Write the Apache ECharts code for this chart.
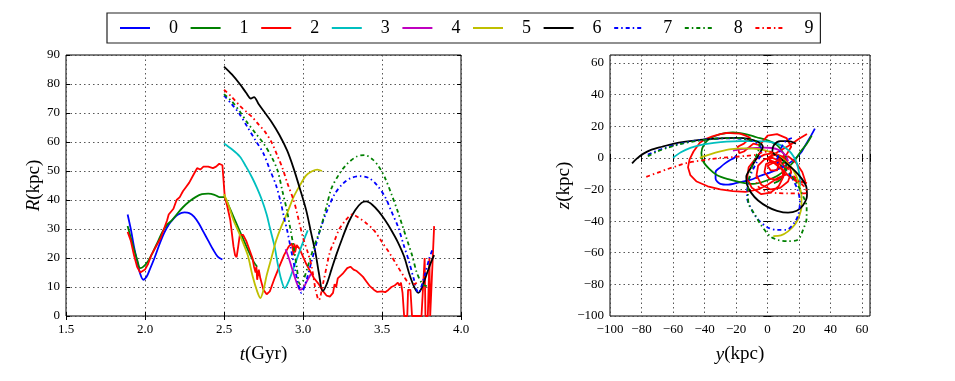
<!DOCTYPE html>
<html><head><meta charset="utf-8">
<script src="https://cdn.jsdelivr.net/npm/echarts@6/dist/echarts.min.js"></script>
<style>html,body{margin:0;padding:0;background:#fff}#c{width:955px;height:381px}</style>
</head><body><div id="c"></div>
<script>
const names = ['0','1','2','3','4','5','6','7','8','9'];
const colors = ['#0000ff','#008000','#ff0000','#00bfbf','#bf00bf','#bfbf00','#000000','#0000ff','#008000','#ff0000'];
const tTicks = [1.5, 2.0, 2.5, 3.0, 3.5, 4.0];
const rTicks = [0, 10, 20, 30, 40, 50, 60, 70, 80, 90];
const yzTicks = [-100, -80, -60, -40, -20, 0, 20, 40, 60];

// R(t) series
const R0 = [[1.89,35],[1.91,30],[1.93,24],[1.95,19],[1.97,14.5],[1.99,12.5],[2.01,13.5],[2.03,16],[2.06,20],[2.09,24.5],[2.12,28.5],[2.15,31.5],[2.18,33.5],[2.21,35],[2.25,35.7],[2.28,35.5],[2.31,34.3],[2.34,32],[2.37,29],[2.40,26],[2.43,23],[2.46,20.5],[2.49,19.5]];
const R1 = [[1.89,31],[1.91,27],[1.93,23],[1.95,19.5],[1.97,16.5],[1.99,17],[2.02,19],[2.05,22],[2.08,25.5],[2.11,29],[2.14,31.5],[2.17,33],[2.2,35],[2.24,37.5],[2.28,39.5],[2.32,41],[2.36,42],[2.4,42.2],[2.44,41.8],[2.47,41],[2.5,41],[2.53,38],[2.57,33],[2.61,28],[2.65,23],[2.69,18.5],[2.71,17]];
const R2 = [[1.89,29],[1.91,26],[1.93,21],[1.95,17],[1.97,15],[1.98,14.5],[2.0,16],[2.02,18],[2.04,21],[2.06,23],[2.08,25],[2.1,27],[2.12,30],[2.14,33],[2.15,35],[2.16,34.5],[2.18,37],[2.2,40],[2.22,41],[2.24,43],[2.26,44.5],[2.28,46],[2.3,48],[2.32,50],[2.33,51],[2.35,50.5],[2.37,51.5],[2.4,51.5],[2.43,51],[2.45,51.5],[2.47,52.5],[2.48,52.5],[2.49,52],[2.5,52],[2.505,41],[2.52,38],[2.54,33],[2.56,24],[2.57,21],[2.58,20.3],[2.59,24],[2.6,28],[2.62,28],[2.64,26],[2.66,23],[2.68,20],[2.69,17],[2.7,15],[2.705,17],[2.71,12.5],[2.72,16],[2.73,13],[2.75,9],[2.77,7.5],[2.79,8.5],[2.82,13],[2.85,17],[2.88,21],[2.91,24],[2.93,25],[2.94,21],[2.945,25],[2.95,22],[2.96,24.5],[2.98,23],[3.0,20.5],[3.02,18],[3.04,16],[3.07,13],[3.1,11],[3.12,9],[3.15,7],[3.17,6.7],[3.19,8],[3.2,11],[3.21,10],[3.22,13],[3.25,14.5],[3.28,16.5],[3.3,17],[3.32,16],[3.34,15.5],[3.36,14.5],[3.38,13.5],[3.4,12],[3.42,10.5],[3.45,9],[3.47,8.3],[3.5,8.5],[3.52,8.2],[3.54,9],[3.56,10],[3.58,10.5],[3.6,11.5],[3.61,10.5],[3.62,11.5],[3.63,8],[3.64,0],[3.66,0],[3.665,9],[3.68,9],[3.69,0],[3.75,0],[3.77,20],[3.775,0],[3.79,0],[3.8,20],[3.805,0],[3.815,0],[3.83,31]];
const R3 = [[2.5,59.5],[2.55,57.5],[2.6,55],[2.64,51.5],[2.68,47.5],[2.71,44],[2.74,40],[2.77,35],[2.79,30.5],[2.82,24],[2.84,18],[2.86,13],[2.885,9.6],[2.91,12],[2.95,18],[2.99,24],[3.03,29.5]];
const R4 = [[2.89,23],[2.91,20],[2.93,16.5],[2.95,13],[2.97,10],[2.98,9],[3.0,9.5],[3.02,11.5],[3.05,14.5]];
const R5 = [[2.5,42],[2.53,38],[2.56,33],[2.6,28],[2.65,21],[2.68,14],[2.71,8.5],[2.73,6.2],[2.75,9],[2.77,14],[2.8,20],[2.83,26],[2.86,30.5],[2.9,35.5],[2.94,41],[2.98,45],[3.02,48.5],[3.06,50],[3.09,50.5],[3.12,50]];
const R6 = [[2.5,86],[2.55,83.3],[2.6,80],[2.64,77],[2.67,75],[2.69,75.5],[2.72,73],[2.76,70],[2.8,67],[2.85,62.5],[2.9,57],[2.94,51],[2.98,44],[3.02,36.5],[3.05,29],[3.08,21.5],[3.1,15],[3.125,8.6],[3.15,11],[3.18,16],[3.21,21],[3.25,27],[3.29,32.5],[3.33,36.5],[3.37,39],[3.4,39.5],[3.44,38.3],[3.48,36],[3.52,33],[3.56,29.5],[3.6,25.5],[3.64,20.5],[3.67,15],[3.7,10.5],[3.73,8],[3.75,9.5],[3.78,14],[3.81,18.5],[3.83,21]];
const R7 = [[2.5,76],[2.55,73],[2.6,69.5],[2.65,65],[2.7,60.5],[2.75,56],[2.79,50.5],[2.83,45],[2.86,39],[2.88,34],[2.9,29.5],[2.92,24],[2.95,16],[2.97,11],[2.99,8],[3.02,12],[3.05,18],[3.08,24],[3.11,30],[3.15,36],[3.2,42],[3.25,45.5],[3.3,47.5],[3.36,48.2],[3.42,47.5],[3.47,45],[3.52,41],[3.56,36],[3.6,31],[3.64,24],[3.67,19],[3.7,13],[3.73,8],[3.77,14],[3.8,20],[3.82,23]];
const R8 = [[2.5,76.5],[2.55,74],[2.6,70.5],[2.65,66.5],[2.7,63],[2.75,59.5],[2.8,55],[2.84,50],[2.87,43],[2.9,36],[2.92,30],[2.94,24],[2.96,17],[2.98,11],[3.0,12],[3.03,17],[3.07,24],[3.11,30],[3.15,38],[3.18,44],[3.23,49],[3.28,52.5],[3.34,55],[3.39,55.5],[3.44,54],[3.48,51.5],[3.52,47.5],[3.56,42],[3.6,36],[3.63,31],[3.66,26],[3.69,21],[3.72,15],[3.75,11.5],[3.77,10.5],[3.8,10.3]];
const R9 = [[2.5,78],[2.55,75.5],[2.6,72.5],[2.65,70],[2.68,68.5],[2.72,66],[2.76,63.5],[2.8,60],[2.84,55],[2.87,51],[2.9,46],[2.94,40],[2.96,36],[3.0,27],[3.03,22],[3.055,17],[3.08,9],[3.1,5.5],[3.13,12],[3.17,22],[3.2,26],[3.23,30],[3.27,33],[3.31,35],[3.35,34],[3.4,32],[3.45,29.5],[3.5,25.5],[3.55,21.5],[3.6,17],[3.64,13.5],[3.67,11.3],[3.7,11],[3.72,11.5]];

// y-z trajectories
const YZ0 = [[30,18.5],[27,13],[24,8],[21,3],[17,-1],[12,-4.5],[7,-7],[1,-9.5],[-5,-11.5],[-11,-14],[-18,-15.5],[-25,-17],[-30,-16.5],[-33,-13],[-33,-9],[-30,-6],[-27,-3.5],[-24,-1.5],[-21,0],[-20,1.5]];
const YZ1 = [[28,14],[25,9],[21,4],[17,-2],[12,-7],[6,-11.5],[-1,-14.5],[-9,-16.5],[-17,-15.5],[-25,-13.5],[-32,-11],[-37,-7],[-41,-2],[-42,3],[-40,9],[-36,12.5],[-30,15],[-22,16],[-14,15],[-7,13],[0,11],[6,8],[10,3],[12,-3],[11,-9],[8,-14],[4,-16]];
const YZ2 = [[25,-16],[18,-14],[12,-10.5],[6,-13],[0,-17],[-6,-20],[-14,-21.5],[-22,-21],[-30,-20],[-38,-18],[-45,-15],[-49,-11],[-50.5,-6],[-49.5,-1],[-47,4],[-43,9.5],[-39,12],[-35,13.6],[-30,15],[-26,15.8],[-21,15.5],[-17.5,15.3],[-14,14],[-11,12.6],[-15,9],[-19,7],[-18,3],[-15,4],[-9,9],[-5,8],[0,14],[6,15],[12,12.5],[15,7],[12,2],[6,-1],[9,-6],[10,-12],[7,-18],[2,-22],[-4,-23],[-10,-19],[-13,-13],[-12,-6],[-8,-1],[-2,2],[4,3],[9,1],[13,-3],[15,-9],[13,-15],[8,-19],[2,-20],[-4,-17],[-7,-11],[-6,-5],[-2,-1],[3,0],[8,-2],[11,-6],[10,-11],[6,-14],[1,-13],[-2,-9],[-1,-4],[3,-2],[7,-4],[6,-8],[2,-8],[0,-5],[4,-3],[8,-1],[13,1],[18,-3],[22,-9],[24,-15],[20,-16],[14,-12],[10,-8],[0,0],[3,-4],[0,0],[5,2],[0,0],[14,8],[20,12],[25,15]];
const YZ3 = [[-60,0],[-55,3.5],[-49,6.3],[-42,8.2],[-34,9.5],[-26,10.3],[-17,10.5],[-8,10.5],[0,10.3],[6,9],[11,6.5],[15,3],[18,-2],[19.5,-7],[20.5,-13],[20.5,-18]];
const YZ4 = [[-22,4.5],[-17,5.5],[-12,6],[-7,6.3],[-2,6.5],[3,6.2],[7,5],[10,3],[12,0.5],[13,-2]];
const YZ5 = [[-43,0],[-37,2],[-30,4],[-23,5.5],[-16,6],[-9,5.8],[-3,5],[2,3.5],[7,1],[11,-2],[15,-6],[18,-11],[20,-17],[21.5,-24],[21.5,-31],[20,-37],[17.5,-42],[13,-46.5],[8.5,-49],[3.6,-49.5]];
const YZ6 = [[-86,-3.5],[-83,-0.5],[-79,2.5],[-74,5],[-67,7],[-60,8.8],[-52,10.2],[-43,11.3],[-35,12],[-27,12.5],[-19,12.6],[-12,12],[-6,10],[-3,7],[-5,3],[-8,-2],[-11,-7],[-13.5,-12],[-13,-17],[-10.5,-22],[-6,-27],[0,-31],[6,-33.5],[13,-34.7],[18.5,-33.5],[22.5,-30],[25,-24],[24.5,-18],[21.5,-13],[17,-8],[12,-3.5],[7,0.5],[3,4],[4,8],[8,10.5],[13,10.5],[18,9]];
const YZ7 = [[-76,2],[-70,4.5],[-63,7],[-55,9],[-46,10.8],[-37,11.8],[-28,12.3],[-19,12.2],[-11,11],[-5,8],[-4,3],[-7,-3],[-10,-9],[-12.5,-16],[-13,-25],[-10,-33],[-6,-39],[0,-44],[6,-45.5],[12,-45.5],[17,-41],[19.5,-36],[20.5,-28],[19,-20],[15,-12],[10,-6],[6,-2],[8,5],[11,10],[14,12],[17,13]];
const YZ8 = [[-76,1],[-70,4],[-63,6.5],[-55,8.8],[-46,10.5],[-37,11.7],[-28,12.4],[-19,12.4],[-11,11.2],[-5,9],[-6,4],[-9,-3],[-11.5,-12],[-12.5,-22],[-12,-29],[-8,-36],[-4.5,-42],[1.5,-49.5],[7,-52],[13,-52.7],[19.4,-51.6],[22.6,-45.3],[24.8,-38],[24.8,-31],[22.6,-24.3],[19,-17],[15,-11],[11,-7],[8,-4],[10,-3],[12,2]];
const YZ9 = [[-77,-12],[-70,-9.5],[-64,-7.3],[-57,-5],[-51,-3.2],[-44,-2],[-37,-1],[-30,0],[-22,0.5],[-14,1.2],[-7,2],[-3,3.5],[1,4],[5,2],[9,-2],[13,-7],[17,-12],[21,-16],[24,-19],[25,-22],[20,-22.5],[13,-22.5],[6,-22.3],[0,-21.5],[-5,-19],[-7,-16],[-7,-12],[-6,-9]];

const RS = [R0,R1,R2,R3,R4,R5,R6,R7,R8,R9];
const YZS = [YZ0,YZ1,YZ2,YZ3,YZ4,YZ5,YZ6,YZ7,YZ8,YZ9];

const FONT = 'Liberation Serif';
const dashDot = [4,3,1.5,3];
function lineType(i){ return i >= 7 ? dashDot : 'solid'; }
function smoothOf(i){ return i === 2 ? false : 0.3; }

const minus = v => String(v).replace('-', '\u2212');
const labelStyle = {fontFamily: FONT, fontSize: 13, color: '#000'};
const splitStyle = {show: true, lineStyle: {color: '#444', type: [1.5,3], width: 0.9}};
const tickIn = {show: true, inside: true, length: 4, lineStyle: {color: '#000'}};
const nameStyle = {fontFamily: FONT, fontSize: 19, color: '#000',
  rich: {i: {fontFamily: FONT, fontSize: 19, fontStyle: 'italic', color: '#000'}}};

function mainX(gi, min, max, interval, fmt, name){
  return {type: 'value', gridIndex: gi, min, max, interval, position: 'bottom',
    axisLine: {show: false}, axisTick: tickIn, splitLine: splitStyle,
    axisLabel: Object.assign({margin: 7, formatter: fmt}, labelStyle),
    name, nameLocation: 'middle', nameGap: 29, nameTextStyle: nameStyle};
}
function mainY(gi, min, max, interval, fmt, name, gap){
  return {type: 'value', gridIndex: gi, min, max, interval, position: 'left',
    axisLine: {show: false}, axisTick: tickIn, splitLine: splitStyle,
    axisLabel: Object.assign({margin: 6, formatter: fmt}, labelStyle),
    name, nameLocation: 'middle', nameGap: gap, nameRotate: 90, nameTextStyle: nameStyle};
}
function sideAxis(type, gi, min, max, interval, pos){
  return {type: 'value', gridIndex: gi, min, max, interval, position: pos,
    axisLine: {show: false}, axisTick: tickIn, splitLine: {show: false}, axisLabel: {show: false}};
}
const yzFmt = v => (v > 60 ? '' : minus(v));

const series = [];
names.forEach((n, i) => {
  series.push({name: n, type: 'line', xAxisIndex: 0, yAxisIndex: 0, data: RS[i],
    showSymbol: false, symbol: 'none', smooth: smoothOf(i), clip: true,
    lineStyle: {color: colors[i], width: 1.8, type: lineType(i)}, itemStyle: {color: colors[i]}});
  series.push({name: n, type: 'line', xAxisIndex: 2, yAxisIndex: 2, data: YZS[i],
    showSymbol: false, symbol: 'none', smooth: smoothOf(i), clip: true,
    lineStyle: {color: colors[i], width: 1.8, type: lineType(i)}, itemStyle: {color: colors[i]}});
});

const chart = echarts.init(document.getElementById('c'), null, {renderer: 'canvas'});
chart.setOption({
  animation: false,
  backgroundColor: '#fff',
  legend: {data: names, left: 107, top: 13, orient: 'horizontal',
    itemWidth: 30, itemHeight: 12, itemGap: 11.6,
    itemStyle: {opacity: 0, borderWidth: 0},
    borderColor: '#222', borderWidth: 1.2, padding: [6, 7, 6, 12],
    textStyle: {fontFamily: FONT, fontSize: 18, color: '#000', padding: [0, 0, 0, 14]}},
  grid: [
    {left: 66, right: 494, top: 55, bottom: 65, show: true, borderColor: '#000', borderWidth: 1, backgroundColor: 'transparent'},
    {left: 610, right: 85, top: 55, bottom: 65, show: true, borderColor: '#000', borderWidth: 1, backgroundColor: 'transparent'}
  ],
  xAxis: [
    mainX(0, 1.5, 4.0, 0.5, v => v.toFixed(1), '{i|t}(Gyr)'),
    sideAxis('x', 0, 1.5, 4.0, 0.5, 'top'),
    mainX(1, -100, 65, 20, yzFmt, '{i|y}(kpc)'),
    sideAxis('x', 1, -100, 65, 20, 'top')
  ],
  yAxis: [
    mainY(0, 0, 90, 10, v => String(v), '{i|R}(kpc)', 21),
    sideAxis('y', 0, 0, 90, 10, 'right'),
    mainY(1, -100, 65, 20, yzFmt, '{i|z}(kpc)', 27),
    sideAxis('y', 1, -100, 65, 20, 'right')
  ],
  series
});
</script></body></html>
